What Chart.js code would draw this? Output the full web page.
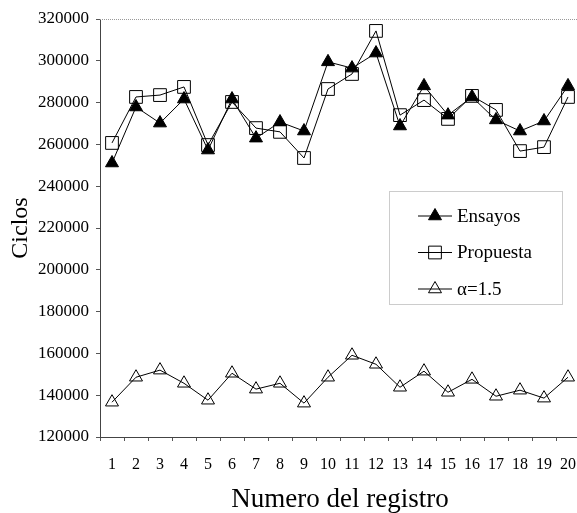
<!DOCTYPE html>
<html>
<head>
<meta charset="utf-8">
<script src="https://cdn.jsdelivr.net/npm/chart.js@4"></script>
<style>
  html, body { margin: 0; padding: 0; background: #fff; overflow: hidden; }
  #wrap { width: 577px; height: 513px; overflow: hidden; }
  canvas { display: block; }
</style>
</head>
<body>
<div id="wrap"><canvas id="c" width="580" height="513"></canvas></div>
<script>
const categories = ['1','2','3','4','5','6','7','8','9','10','11','12','13','14','15','16','17','18','19','20'];
const ensayos   = [251100, 277900, 270200, 281700, 257300, 281700, 263000, 270700, 266400, 299500, 296500, 303700, 268800, 288000, 274000, 282700, 271700, 266400, 271200, 288000];
const propuesta = [260700, 282700, 283600, 287500, 259700, 280300, 267800, 266000, 253500, 286500, 293700, 314300, 274000, 281200, 272200, 283200, 276500, 256800, 258700, 282700];
const alpha15   = [136650, 148600, 152000, 145700, 137600, 150500, 142900, 145700, 136200, 148600, 159100, 154800, 143800, 151500, 141400, 147600, 139500, 142400, 138600, 148600];
const seriesNames = ['Ensayos', 'Propuesta', '\u03b1=1.5'];
const xTitle = 'Numero del registro';
const yTitle = 'Ciclos';
const yMin = 120000, yMax = 320000, yStep = 20000;

const FONT = "'Liberation Serif', 'Times New Roman', serif";

const frame = {
  id: 'frame',
  afterDraw(chart) {
    const {ctx, chartArea} = chart;
    ctx.save();
    ctx.strokeStyle = '#999';
    ctx.lineWidth = 1;
    ctx.setLineDash([1, 1]);
    ctx.beginPath();
    ctx.moveTo(chartArea.left, chartArea.top + 0.5);
    ctx.lineTo(chart.width, chartArea.top + 0.5);
    ctx.stroke();
    ctx.restore();
  }
};

const insideLegend = {
  id: 'insideLegend',
  afterDraw(chart) {
    const {ctx, chartArea} = chart;
    const bx = chartArea.left + 289, by = chartArea.top + 172, bw = 173, bh = 113;
    ctx.save();
    ctx.fillStyle = '#fff';
    ctx.fillRect(bx, by, bw, bh);
    ctx.strokeStyle = '#999';
    ctx.lineWidth = 1;
    ctx.setLineDash([1, 1]);
    ctx.strokeRect(bx + 0.5, by + 0.5, bw, bh);
    ctx.setLineDash([]);
    chart.data.datasets.forEach((ds, i) => {
      const y = by + 25 + i * 36.5;
      const x0 = bx + 29, x1 = bx + 63, xm = (x0 + x1) / 2;
      ctx.strokeStyle = '#000';
      ctx.lineWidth = 1;
      ctx.beginPath();
      ctx.moveTo(x0, y);
      ctx.lineTo(x1, y);
      ctx.stroke();
      ctx.fillStyle = ds.pointBackgroundColor;
      ctx.strokeStyle = '#000';
      Chart.helpers.drawPoint(ctx, {
        pointStyle: ds.pointStyle,
        radius: ds.pointRadius,
        borderWidth: 1,
        rotation: 0
      }, xm, y);
      ctx.fillStyle = '#000';
      ctx.font = "19px " + FONT;
      ctx.textBaseline = 'middle';
      ctx.textAlign = 'left';
      ctx.fillText(ds.label, x1 + 5, y + 1);
    });
    ctx.restore();
  }
};

new Chart(document.getElementById('c'), {
  type: 'line',
  data: {
    labels: categories,
    datasets: [
      {
        label: seriesNames[0], data: ensayos,
        borderColor: '#000', borderWidth: 1,
        pointStyle: 'triangle', pointRadius: 7.5,
        pointBackgroundColor: '#000', pointBorderColor: '#000', pointBorderWidth: 1,
        tension: 0
      },
      {
        label: seriesNames[1], data: propuesta,
        borderColor: '#000', borderWidth: 1,
        pointStyle: 'rect', pointRadius: 9,
        pointBackgroundColor: 'rgba(0,0,0,0)', pointBorderColor: '#000', pointBorderWidth: 1,
        tension: 0
      },
      {
        label: seriesNames[2], data: alpha15,
        borderColor: '#000', borderWidth: 1,
        pointStyle: 'triangle', pointRadius: 7.5,
        pointBackgroundColor: 'rgba(0,0,0,0)', pointBorderColor: '#000', pointBorderWidth: 1,
        tension: 0
      }
    ]
  },
  options: {
    responsive: false,
    animation: false,
    events: [],
    layout: { autoPadding: false, padding: { top: 19, right: 0, left: 0, bottom: 0 } },
    plugins: {
      legend: { display: false },
      tooltip: { enabled: false },
      title: { display: false }
    },
    scales: {
      x: {
        type: 'category',
        offset: true,
        grid: {
          offset: true,
          drawOnChartArea: false,
          drawTicks: true,
          tickLength: 4,
          color: '#555'
        },
        border: { display: true, color: '#444', width: 1 },
        ticks: {
          color: '#000',
          font: { family: FONT, size: 16 },
          padding: 14,
          maxRotation: 0,
          autoSkip: false
        },
        title: {
          display: true,
          text: xTitle,
          color: '#000',
          font: { family: FONT, size: 27, lineHeight: 1 },
          padding: { top: 0, bottom: 0 }
        },
        afterFit(scale) { scale.height = 76; scale.paddingLeft = 0; scale.paddingRight = 0; }
      },
      y: {
        min: yMin, max: yMax,
        grid: {
          drawOnChartArea: false,
          drawTicks: true,
          tickLength: 4,
          color: '#555'
        },
        border: { display: true, color: '#444', width: 1 },
        ticks: {
          stepSize: yStep,
          color: '#000',
          font: { family: FONT, size: 17 },
          padding: 7,
          callback: (v) => String(v)
        },
        title: {
          display: true,
          text: yTitle,
          color: '#000',
          font: { family: FONT, size: 24, lineHeight: 1.2 },
          padding: { top: 6, bottom: 0 }
        },
        afterFit(scale) { scale.width = 100; scale.paddingTop = 0; scale.paddingBottom = 0; }
      }
    }
  },
  plugins: [frame, insideLegend]
});
</script>
</body>
</html>
